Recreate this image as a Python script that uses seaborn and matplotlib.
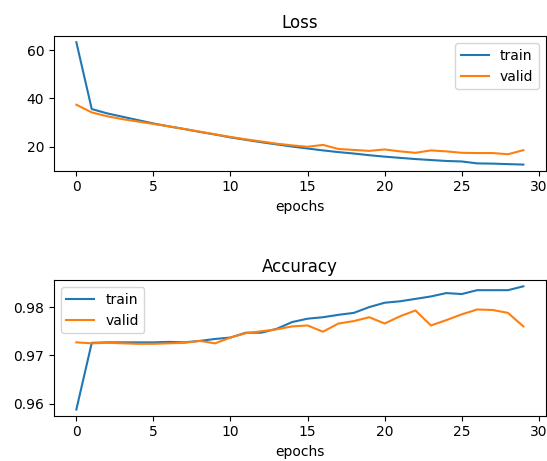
import numpy as np
import pandas as pd
import matplotlib
matplotlib.use("Agg")
import matplotlib.pyplot as plt
import seaborn as sns

# ── Données ─────────────────────────────────────────────────────────────────
epochs = list(range(30))
train_loss = [63.4, 35.6, 33.8, 32.4, 31.0, 29.6, 28.4, 27.3, 26.1, 25.0,
              23.8, 22.8, 21.8, 20.9, 20.0, 19.2, 18.4, 17.7, 17.1, 16.4,
              15.8, 15.3, 14.8, 14.4, 14.0, 13.8, 13.0, 12.9, 12.7, 12.5]
valid_loss = [37.4, 34.2, 32.6, 31.4, 30.4, 29.4, 28.4, 27.3, 26.2, 25.1,
              24.0, 23.0, 22.1, 21.2, 20.5, 19.9, 20.7, 19.0, 18.6, 18.2,
              18.8, 18.0, 17.4, 18.4, 18.0, 17.4, 17.3, 17.3, 16.8, 18.5]
train_acc = [0.9588, 0.9726, 0.9727, 0.9727, 0.9727, 0.9727, 0.9728, 0.9727,
             0.9730, 0.9734, 0.9737, 0.9747, 0.9747, 0.9755, 0.9769, 0.9776,
             0.9779, 0.9784, 0.9788, 0.9800, 0.9809, 0.9812, 0.9817, 0.9822,
             0.9829, 0.9827, 0.9835, 0.9835, 0.9835, 0.9843]
valid_acc = [0.9727, 0.9725, 0.9726, 0.9725, 0.9724, 0.9724, 0.9725, 0.9726,
             0.9730, 0.9725, 0.9737, 0.9746, 0.9750, 0.9754, 0.9760, 0.9762,
             0.9749, 0.9766, 0.9771, 0.9779, 0.9766, 0.9781, 0.9793, 0.9762,
             0.9773, 0.9785, 0.9795, 0.9794, 0.9788, 0.9760]

colors = {"train": "#1f77b4", "valid": "#ff7f0e"}

fig = plt.figure(figsize=(5.47, 4.61), dpi=100)
# l'image d'origine est rognée à droite : l'axe touche presque le bord
ax1 = fig.add_axes([0.0987, 0.6297, 0.899, 0.292])
ax2 = fig.add_axes([0.0987, 0.0983, 0.899, 0.294])

# ── Loss ────────────────────────────────────────────────────────────────────
sns.lineplot(x=epochs, y=train_loss, ax=ax1, label="train", color=colors["train"], lw=1.5)
sns.lineplot(x=epochs, y=valid_loss, ax=ax1, label="valid", color=colors["valid"], lw=1.5)
ax1.set_title("Loss")
ax1.set_xlabel("epochs")
ax1.set_yticks([20, 40, 60])
ax1.legend(loc="upper right")

# ── Accuracy ────────────────────────────────────────────────────────────────
sns.lineplot(x=epochs, y=train_acc, ax=ax2, label="train", color=colors["train"], lw=1.5)
sns.lineplot(x=epochs, y=valid_acc, ax=ax2, label="valid", color=colors["valid"], lw=1.5)
ax2.set_title("Accuracy")
ax2.set_xlabel("epochs")
ax2.set_yticks([0.96, 0.97, 0.98])
ax2.legend(loc="upper left")

for ax in (ax1, ax2):
    ax.set_xticks([0, 5, 10, 15, 20, 25, 30])

fig.savefig("out.png", dpi=100)
plt.close()
